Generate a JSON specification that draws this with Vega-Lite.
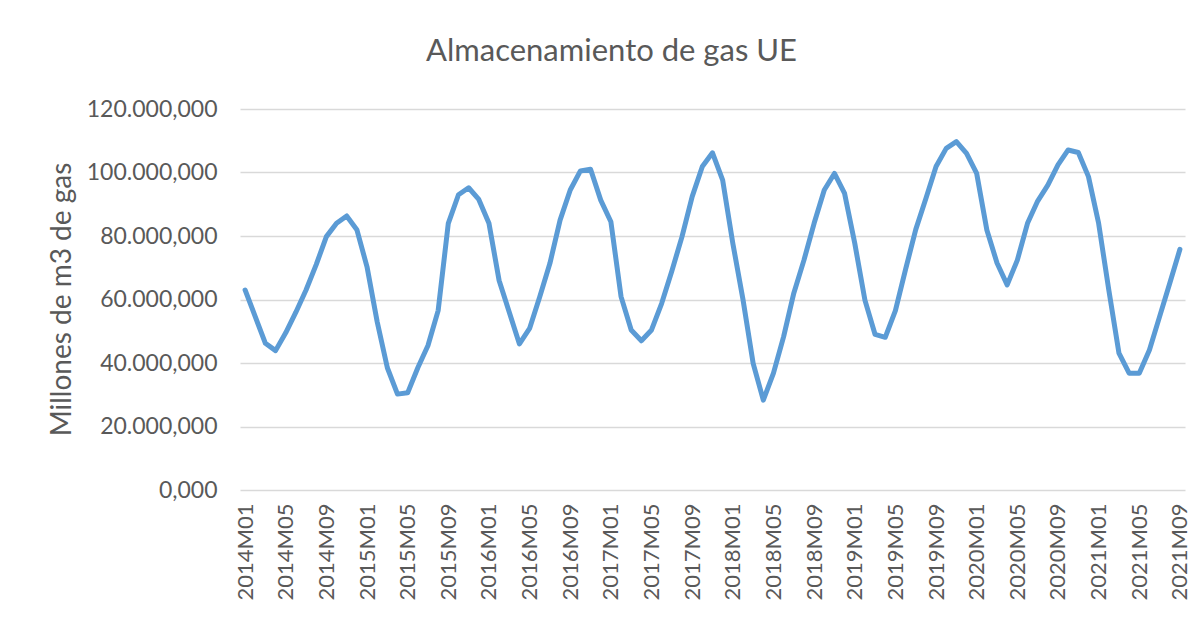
{
  "$schema": "https://vega.github.io/schema/vega-lite/v6.json",
  "autosize": {"type": "none"},
  "padding": {"left": 240, "top": 109, "right": 13, "bottom": 129},
  "width": 945,
  "height": 381,
  "background": "white",
  "config": {
    "locale": {"number": {"decimal": ",", "thousands": ".", "grouping": [3], "currency": ["", " €"]}},
    "view": {"stroke": null},
    "font": "Lato"
  },
  "title": {
    "text": "Almacenamiento de gas UE",
    "font": "Lato",
    "fontSize": 31,
    "fontWeight": "normal",
    "color": "#595959",
    "anchor": "middle",
    "frame": "group",
    "dx": -101,
    "offset": 30
  },
  "data": {
    "values": [
      {"mes": "2014M01", "v": 63000}, {"mes": "2014M02", "v": 54600}, {"mes": "2014M03", "v": 46200}, {"mes": "2014M04", "v": 43900},
      {"mes": "2014M05", "v": 49500}, {"mes": "2014M06", "v": 56000}, {"mes": "2014M07", "v": 63000}, {"mes": "2014M08", "v": 71000},
      {"mes": "2014M09", "v": 79800}, {"mes": "2014M10", "v": 84000}, {"mes": "2014M11", "v": 86300}, {"mes": "2014M12", "v": 82000},
      {"mes": "2015M01", "v": 70300}, {"mes": "2015M02", "v": 53000}, {"mes": "2015M03", "v": 38500}, {"mes": "2015M04", "v": 30200},
      {"mes": "2015M05", "v": 30600}, {"mes": "2015M06", "v": 38500}, {"mes": "2015M07", "v": 45500}, {"mes": "2015M08", "v": 56500},
      {"mes": "2015M09", "v": 84000}, {"mes": "2015M10", "v": 93000}, {"mes": "2015M11", "v": 95200}, {"mes": "2015M12", "v": 91500},
      {"mes": "2016M01", "v": 84000}, {"mes": "2016M02", "v": 66000}, {"mes": "2016M03", "v": 56000}, {"mes": "2016M04", "v": 46000},
      {"mes": "2016M05", "v": 50900}, {"mes": "2016M06", "v": 60900}, {"mes": "2016M07", "v": 71400}, {"mes": "2016M08", "v": 85000},
      {"mes": "2016M09", "v": 94500}, {"mes": "2016M10", "v": 100500}, {"mes": "2016M11", "v": 101000}, {"mes": "2016M12", "v": 91300},
      {"mes": "2017M01", "v": 84500}, {"mes": "2017M02", "v": 60900}, {"mes": "2017M03", "v": 50400}, {"mes": "2017M04", "v": 47000},
      {"mes": "2017M05", "v": 50400}, {"mes": "2017M06", "v": 58800}, {"mes": "2017M07", "v": 69000}, {"mes": "2017M08", "v": 79800},
      {"mes": "2017M09", "v": 92400}, {"mes": "2017M10", "v": 101900}, {"mes": "2017M11", "v": 106200}, {"mes": "2017M12", "v": 97600},
      {"mes": "2018M01", "v": 77700}, {"mes": "2018M02", "v": 60000}, {"mes": "2018M03", "v": 39900}, {"mes": "2018M04", "v": 28300},
      {"mes": "2018M05", "v": 36800}, {"mes": "2018M06", "v": 48300}, {"mes": "2018M07", "v": 62000}, {"mes": "2018M08", "v": 72400},
      {"mes": "2018M09", "v": 84000}, {"mes": "2018M10", "v": 94500}, {"mes": "2018M11", "v": 99700}, {"mes": "2018M12", "v": 93400},
      {"mes": "2019M01", "v": 77700}, {"mes": "2019M02", "v": 59800}, {"mes": "2019M03", "v": 49000}, {"mes": "2019M04", "v": 48100},
      {"mes": "2019M05", "v": 56500}, {"mes": "2019M06", "v": 69500}, {"mes": "2019M07", "v": 82000}, {"mes": "2019M08", "v": 91800},
      {"mes": "2019M09", "v": 101900}, {"mes": "2019M10", "v": 107600}, {"mes": "2019M11", "v": 109700}, {"mes": "2019M12", "v": 106000},
      {"mes": "2020M01", "v": 99700}, {"mes": "2020M02", "v": 81900}, {"mes": "2020M03", "v": 71500}, {"mes": "2020M04", "v": 64600},
      {"mes": "2020M05", "v": 72400}, {"mes": "2020M06", "v": 84000}, {"mes": "2020M07", "v": 91000}, {"mes": "2020M08", "v": 96000},
      {"mes": "2020M09", "v": 102400}, {"mes": "2020M10", "v": 107100}, {"mes": "2020M11", "v": 106300}, {"mes": "2020M12", "v": 98700},
      {"mes": "2021M01", "v": 84000}, {"mes": "2021M02", "v": 63000}, {"mes": "2021M03", "v": 43100}, {"mes": "2021M04", "v": 36800},
      {"mes": "2021M05", "v": 36800}, {"mes": "2021M06", "v": 44100}, {"mes": "2021M07", "v": 54600}, {"mes": "2021M08", "v": 65100},
      {"mes": "2021M09", "v": 75800}
    ]
  },
  "mark": {"type": "line", "color": "#5B9BD5", "strokeWidth": 5, "strokeJoin": "round", "strokeCap": "round"},
  "encoding": {
    "x": {
      "field": "mes",
      "type": "ordinal",
      "sort": null,
      "scale": {"type": "point", "padding": 0.5},
      "axis": {
        "title": null,
        "values": ["2014M01","2014M05","2014M09","2015M01","2015M05","2015M09","2016M01","2016M05","2016M09","2017M01","2017M05","2017M09","2018M01","2018M05","2018M09","2019M01","2019M05","2019M09","2020M01","2020M05","2020M09","2021M01","2021M05","2021M09"],
        "labelAngle": -90,
        "labelFont": "Lato",
        "labelFontSize": 22,
        "labelColor": "#595959",
        "labelPadding": 13,
        "ticks": false,
        "domain": false,
        "grid": false
      }
    },
    "y": {
      "field": "v",
      "type": "quantitative",
      "scale": {"domain": [0, 120000], "nice": false},
      "axis": {
        "values": [0, 20000, 40000, 60000, 80000, 100000, 120000],
        "format": ",.3f",
        "title": "Millones de m3 de gas",
        "titleFont": "Lato",
        "titleFontSize": 28,
        "titleFontWeight": "normal",
        "titleColor": "#595959",
        "titleX": -178,
        "titleY": 190,
        "titleAngle": -90,
        "titleAlign": "center",
        "titleBaseline": "middle",
        "labelFont": "Lato",
        "labelFontSize": 23,
        "labelColor": "#595959",
        "labelPadding": 23,
        "ticks": false,
        "domain": false,
        "grid": true,
        "gridColor": "#d9d9d9",
        "gridWidth": 1.3
      }
    }
  }
}
